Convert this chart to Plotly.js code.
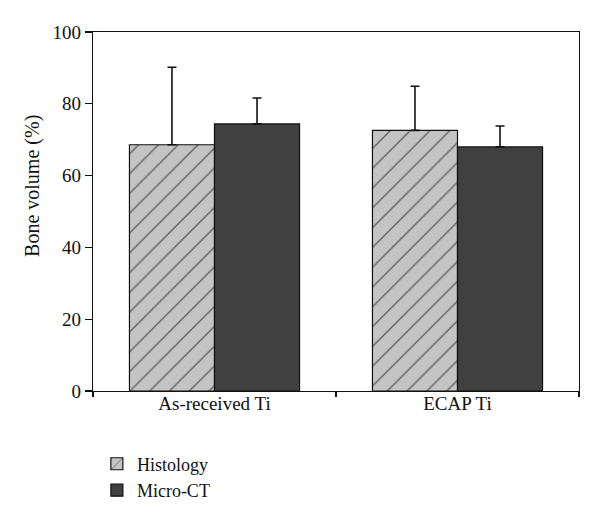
<!DOCTYPE html>
<html>
<head>
<meta charset="utf-8">
<script src="https://cdn.plot.ly/plotly-3.0.1.min.js"></script>
<style>html,body{margin:0;padding:0;background:#fff;}#chart{width:600px;height:523px;}</style>
</head>
<body>
<div id="chart"></div>
<script>
const categories = ["As-received Ti", "ECAP Ti"];
const histology = [68.6, 72.6];
const histologyErr = [21.6, 12.3];
const microCT = [74.4, 68.0];
const microCTErr = [7.2, 5.8];
const yTicks = [0, 20, 40, 60, 80, 100];
const yTitle = "Bone volume (%)";

const FONT = "Liberation Serif, Times New Roman, serif";

const traces = [
  {
    type: "bar", name: "Histology", x: categories, y: histology,
    marker: {
      color: "#c4c4c4",
      line: {color: "#111", width: 1.2},
      pattern: {shape: "/", fgcolor: "#000", bgcolor: "#c4c4c4", size: 14, solidity: 0.1, fillmode: "overlay"}
    },
    error_y: {type: "data", symmetric: false, array: histologyErr, arrayminus: [0, 0], color: "#111", thickness: 1.6, width: 4.5}
  },
  {
    type: "bar", name: "Micro-CT", x: categories, y: microCT,
    marker: {color: "#404040", line: {color: "#111", width: 1.2}},
    error_y: {type: "data", symmetric: false, array: microCTErr, arrayminus: [0, 0], color: "#111", thickness: 1.6, width: 4.5}
  }
];

const layout = {
  width: 600, height: 523,
  margin: {l: 93, r: 21, t: 31.5, b: 132.3, pad: 0},
  paper_bgcolor: "#fff", plot_bgcolor: "#fff",
  font: {family: FONT, size: 19, color: "#111"},
  barmode: "group", bargap: 0.3, bargroupgap: 0,
  showlegend: true,
  legend: {
    x: 0.008, xanchor: "left", y: -0.152, yanchor: "top",
    font: {family: FONT, size: 18, color: "#111"},
    bgcolor: "rgba(0,0,0,0)", tracegroupgap: 0, itemwidth: 30
  },
  xaxis: {
    type: "category", range: [-0.5, 1.5],
    showline: true, linecolor: "#111", linewidth: 1.3, mirror: true,
    ticks: "outside", tickson: "boundaries", ticklen: 5, tickcolor: "#111", tickwidth: 1.2,
    ticklabelstandoff: -5,
    showgrid: false, zeroline: false,
    tickfont: {family: FONT, size: 19, color: "#111"}
  },
  yaxis: {
    range: [0, 100], tickvals: yTicks, ticktext: yTicks.map(String),
    showline: true, linecolor: "#111", linewidth: 1.3, mirror: true,
    ticks: "outside", ticklen: 7, tickcolor: "#111", tickwidth: 1.2,
    showgrid: false, zeroline: false,
    tickfont: {family: FONT, size: 19, color: "#111"}
  },
  annotations: [{
    text: yTitle, textangle: -90, xref: "paper", yref: "paper",
    x: -0.125, y: 0.572, xanchor: "center", yanchor: "middle",
    showarrow: false, font: {family: FONT, size: 20, color: "#111"}
  }]
};

Plotly.newPlot("chart", traces, layout, {displayModeBar: false, staticPlot: true});
</script>
</body>
</html>
